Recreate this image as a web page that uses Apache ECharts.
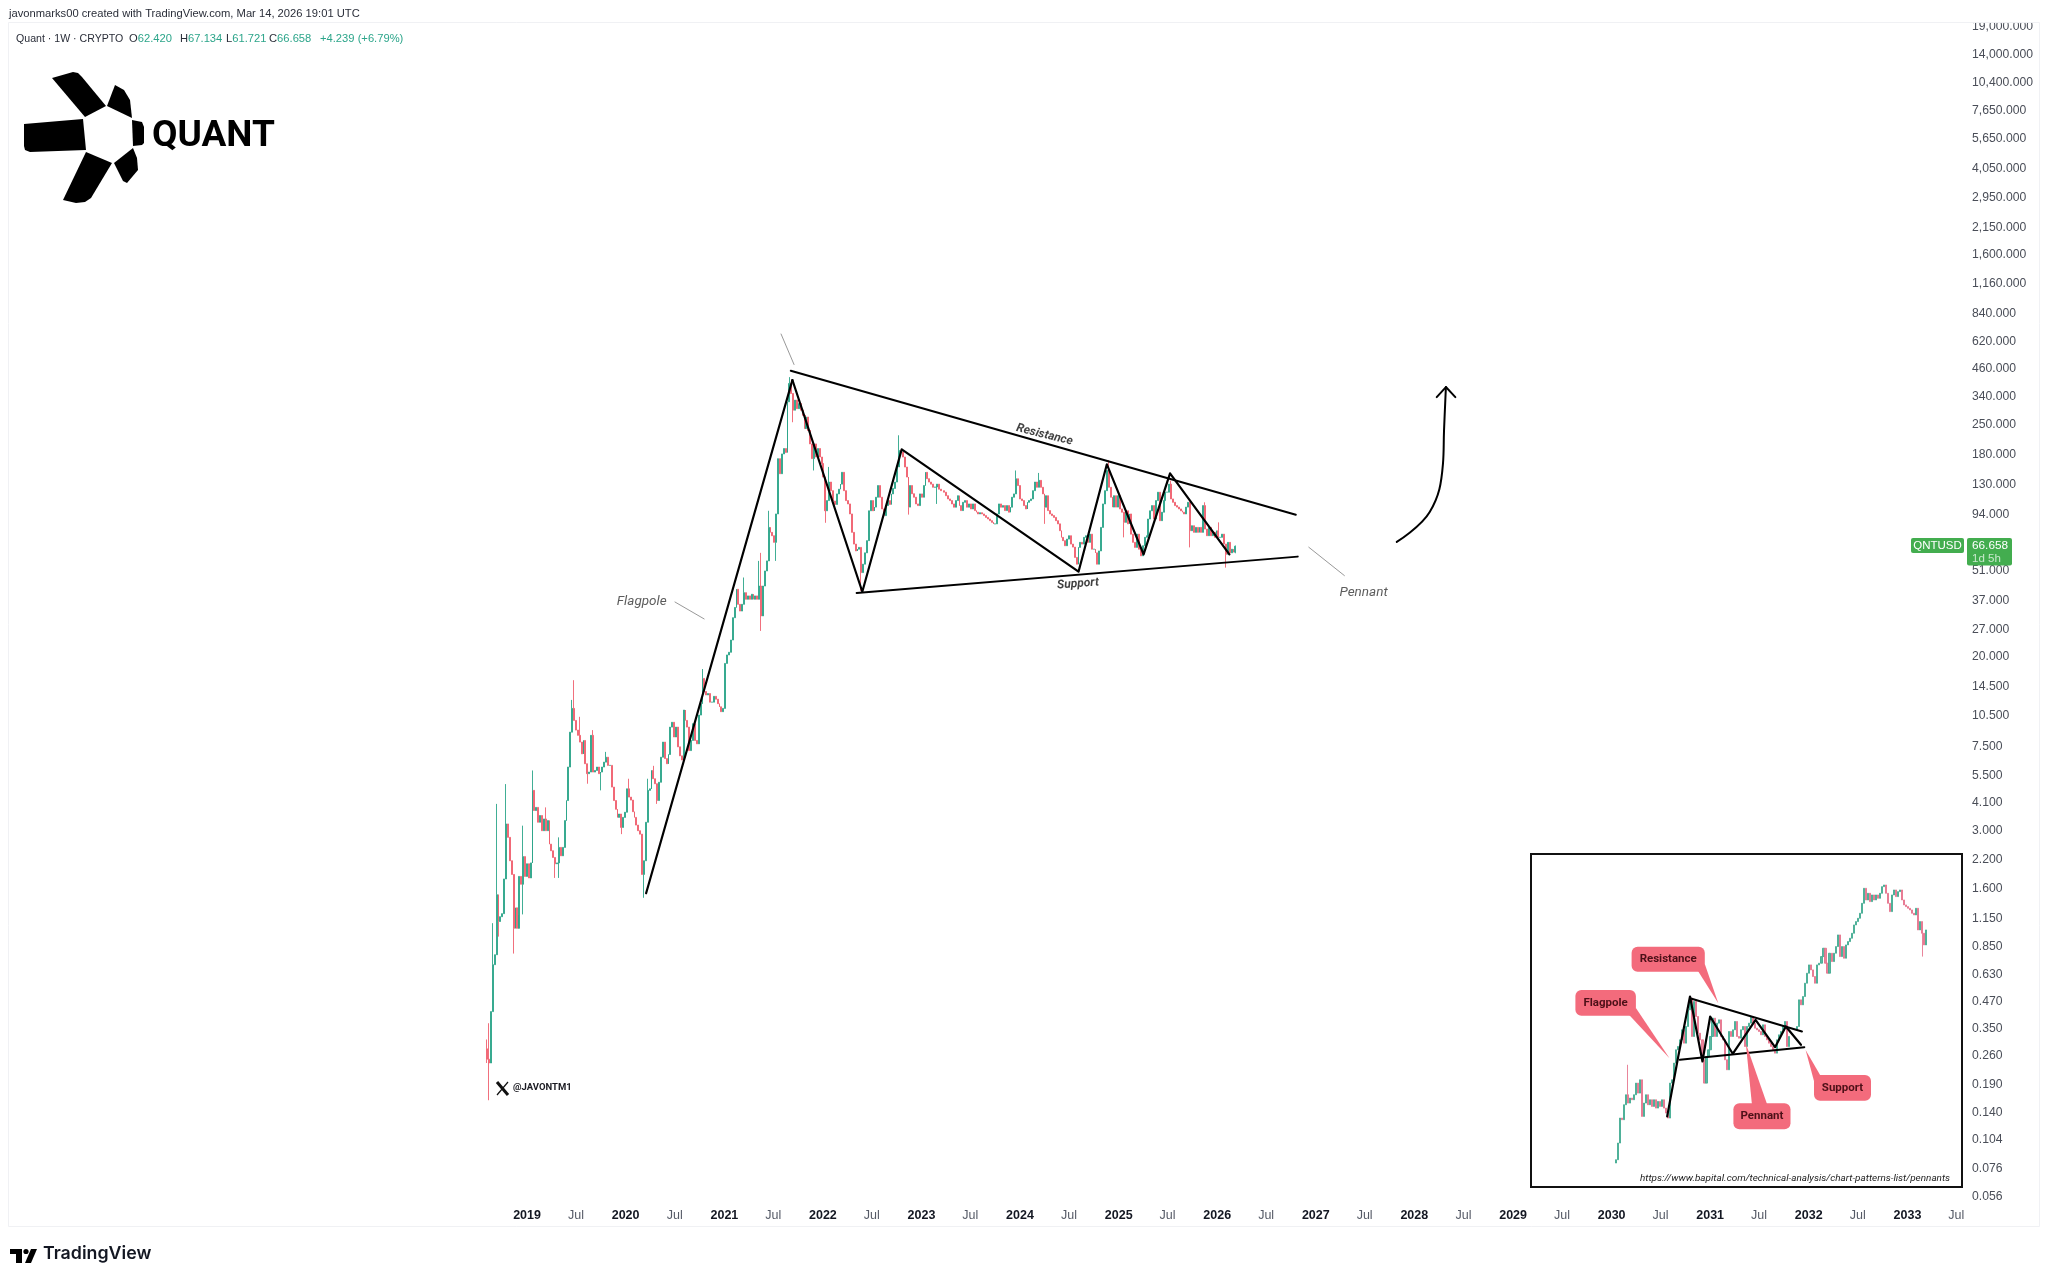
<!DOCTYPE html>
<html>
<head>
<meta charset="utf-8">
<title>QNTUSD pennant</title>
<script src="https://cdn.jsdelivr.net/npm/echarts@6/dist/echarts.min.js"></script>
<style>
  html, body { margin: 0; background: #fff; }
  #chart { width: 2048px; height: 1280px; }
</style>
</head>
<body>
<div id="chart"></div>
<script>
// weekly candles, open = previous close
const firstWeek = '2018-08-06'
const firstOpen = 0.28
const closes = [
  0.25, 0.24, 0.42, 0.7, 0.78, 1.5, 1.12, 1.18, 1.22, 1.78,
  3.24, 2.8, 2.17, 1.87, 1.04, 1.3, 1.04, 1.83, 1.68, 2.27,
  1.83, 2.1, 1.8, 2.12, 4.67, 3.75, 3.88, 3.3, 3.55, 3.01,
  3.42, 3.01, 3.36, 2.6, 2.42, 2.25, 2.1, 2.12, 2.51, 2.29,
  2.51, 3.36, 4.18, 6.02, 8.8, 11.4, 10, 9, 8.5, 7.9,
  6.95, 8.04, 6.24, 5.6, 5.7, 8.5, 5.7, 5.8, 6.02, 5.6,
  5.7, 6.02, 6.35, 6.7, 6.13, 6.13, 4.84, 4.18, 3.8, 3.48,
  3.61, 3.12, 3.48, 3.68, 4.75, 4.34, 4.2, 3.7, 3.48, 3.2,
  3.01, 2.9, 1.87, 2.17, 3.3, 4.67, 4.75, 5.8, 5.3, 5.02,
  4.18, 5.1, 6.7, 7.9, 6.6, 6.24, 6.9, 9.3, 9.8, 8.35,
  9.3, 7.5, 6.8, 6.5, 11.2, 10, 9.3, 7.2, 8.04, 9.65,
  8.04, 7.75, 10.6, 12, 15.8, 13.7, 13.2, 13.4, 12.2, 12.2,
  13, 12.6, 12, 11.6, 11, 11.4, 18.6, 20.4, 21, 24,
  30.6, 34.2, 41.7, 35.4, 32.9, 35.4, 40.2, 37.4, 38.8, 37.4,
  39.5, 37.4, 38.8, 37.4, 43.2, 31.2, 43.2, 50.9, 56.8, 81.8,
  77.5, 74.7, 69.5, 94.7, 172.8, 146.7, 182, 193, 185, 321,
  392, 351.5, 293, 327, 298, 315, 293, 277, 240, 272,
  235, 203, 173, 203, 176, 193, 176, 164, 141.5, 98,
  109.5, 134, 122, 109, 105, 117.8, 124, 131, 149, 122,
  109.5, 105.6, 94.7, 77.5, 68.2, 63.3, 64.5, 65.8, 50, 54.8,
  62, 70.8, 98, 109.5, 98, 102, 113.6, 129, 113.6, 100,
  93, 103.7, 109.5, 105, 117.8, 125, 134, 158, 189, 186,
  176, 157.8, 141.5, 102, 129, 118, 113.6, 105.6, 103.7, 117.8,
  113.6, 129, 149, 139, 134, 131, 126.6, 127, 131, 124,
  122, 122, 120, 115.5, 111.5, 109.5, 105.6, 101.9, 109.5, 115.5,
  103.7, 98.2, 107.5, 109.5, 101.9, 105.6, 100, 105.6, 98.2, 96.5,
  94.7, 96, 94.7, 93, 91.2, 89.6, 88, 86.4, 85, 85,
  94.7, 105.6, 101.9, 103.7, 98.2, 103.7, 96.5, 101.9, 113.6, 117.8,
  138.9, 129, 111.5, 109.5, 103.7, 100, 107.5, 109.5, 111.5, 122,
  134, 126.6, 136.5, 126.6, 117.8, 101.9, 115.5, 98.2, 94.7, 93,
  91.2, 88, 85, 78.9, 73.4, 70.8, 67, 72, 74.7, 68.2,
  66, 59, 54.8, 65.8, 69.5, 68.2, 73.4, 74.7, 69.5, 76,
  64.5, 64.5, 62, 54.8, 63.3, 81.8, 105.6, 122, 152, 126.6,
  113.6, 102, 115.5, 102, 115.5, 100, 96.5, 86.4, 98, 85,
  94.7, 76, 69.5, 65.8, 76, 64.5, 60, 67, 73.4, 74.7,
  89.6, 98, 103.7, 89.6, 109.5, 120, 88, 96.5, 109.5, 120,
  120, 131, 111.5, 107.5, 103.7, 102, 100, 98, 96.5, 94.7,
  102, 107.5, 78.9, 83.3, 77.5, 81.8, 77.5, 81.8, 77.5, 103.7,
  80.3, 74.7, 81.8, 74.7, 77.5, 73.4, 78.9, 73.4, 73.4, 76,
  68.2, 61, 69.5, 62, 64.5, 62.42, 66.658,
]
// only the wicks that stand out: [week index, price]
const highWicks = [
  [0, 0.31], [1, 0.37], [3, 1.1], [5, 4.03], [10, 5], [19, 3.18], [24, 5.8], [31, 3.88], [38, 2.8],
  [45, 12.5], [46, 15.5], [49, 10.4], [56, 9], [63, 7.1], [75, 5.3], [85, 5.3], [88, 6.1], [114, 17.5],
  [136, 47.4], [144, 56.8], [145, 62], [149, 98], [160, 420], [161, 407], [181, 158], [218, 223],
  [280, 152], [292, 148], [329, 170], [362, 136], [380, 107.5], [387, 86.4], [396, 67.134],
]
const lowWicks = [
  [0, 0.24], [1, 0.16], [5, 0.78], [6, 0.95], [14, 0.79], [17, 1.2], [19, 1.21], [36, 1.8], [38, 1.8],
  [53, 5.02], [60, 4.67], [71, 2.9], [83, 1.45], [90, 4.03], [145, 26.5], [153, 56.8], [162, 257],
  [173, 152], [179, 86], [198, 41], [223, 94], [238, 105.6], [295, 85], [337, 73.4], [372, 65.8], [391, 52.8], [396, 61.721],
]

const priceTicks = [19000, 14000, 10400, 7650, 5650, 4050, 2950, 2150, 1600, 1160, 840, 620, 460, 340, 250, 180, 130, 94,
  51, 37, 27, 20, 14.5, 10.5, 7.5, 5.5, 4.1, 3, 2.2, 1.6, 1.15, 0.85, 0.63, 0.47, 0.35, 0.26, 0.19, 0.14, 0.104, 0.076, 0.056]
const firstYearLabel = 2019

// hand drawn lines on the chart, [date, price]
const flagpole = [['2020-03-17', 1.523], ['2021-09-10', 407]]
const zigzag = [['2021-09-10', 407], ['2022-05-27', 40.6], ['2022-10-20', 191.4], ['2024-08-05', 50.5],
  ['2024-11-18', 162.6], ['2025-04-03', 61], ['2025-07-10', 147.4], ['2026-02-15', 61]]
const resistance = [['2021-09-04', 450.5], ['2026-10-19', 93.9]]
const support = [['2022-05-06', 40.05], ['2026-10-26', 59.5]]
const peakLeader = [['2021-07-30', 671.5], ['2021-09-16', 482]]
const poleLeader = [['2020-07-02', 36.3], ['2020-10-18', 30.2]]
const pennantLeader = [['2026-12-06', 65.9], ['2027-04-17', 48.4]]
const arrowCurve = [['2027-10-28', 69.8], ['2028-02-27', 96.7], ['2028-04-16', 163], ['2028-04-20', 233.6], ['2028-04-27', 377]]
const arrowHead = [['2028-03-24', 338], ['2028-04-27', 377], ['2028-06-01', 338]]

// small picture in the corner, own scale 0-1000, gaps are null
const insetFirstBar = 42
const insetCloses = [
  82, 132, 207, 202, 247, 277, 252, 267, 262, 277, 312, 282, 322, 212, 252, 277, 247, 262, 242, 262, 237, 257, 242, 262, 237, 222, 207,
  312, 322, 372, 412, 422, 442, 472, 432, 482, 532, 567, 452, 557, 512, 462, 442, 382, 312, 392, 412,
  452, 507, 452, 492, 502, 452, 442, 382, 352, 467, 452, 472, 497, 452, 447, 472, 482, 422, 482, 492,
  512, 492, 477, 472, 467, 457, 487, 452, 442, 432, 422, 412, 402, 442, 457, 467, 482, 497, 422, 452,
  null, null, null, 482, 562, 547, 572, 612, 642, 667, 652, 632, 612, 667, 672, 692, 717, 672, 642, 702, 677, 702, 722, 757,
  692, 722, 687, 727, 737, 747, 762, 787, 797, 807, 822, 852, 897, 862, 882, 857, 877, 862, 877, 867, 882, 902, 907, 882, 852, 827,
  877, 892, 872, 887, 892, 862, 847, 842, 837, 832, 822, 817, 837, 772, 797, 762, 727, 772,
]
const insetHighWicks = [[48, 367]]
const insetLowWicks = [[194, 692]]
const insetPole = [[67.5, 212], [73, 392], [78.83, 572], [85, 377], [88.83, 512], [100, 400], [111.33, 502], [121, 420], [126.33, 482], [133.83, 427]]
const insetResistance = [[78.83, 567], [134.33, 467]]
const insetSupport = [[73.83, 382], [135.5, 420]]

const upColor = '#2ca58a'
const downColor = '#f0616f'
const uiFont = '"Liberation Sans", Arial, sans-serif'
const weekMs = 7 * 24 * 3600 * 1000
const halfYearMs = 183 * 24 * 3600 * 1000

function wickMap(list) {
  const m = {}
  list.forEach(([i, v]) => { m[i] = v })
  return m
}

function buildCandles() {
  const hi = wickMap(highWicks)
  const lo = wickMap(lowWicks)
  const start = new Date(firstWeek).getTime()
  return closes.map((c, i) => {
    const o = i === 0 ? firstOpen : closes[i - 1]
    return [start + i * weekMs, o, c, lo[i] ?? Math.min(o, c), hi[i] ?? Math.max(o, c)]
  })
}

function buildInset() {
  const hi = wickMap(insetHighWicks)
  const lo = wickMap(insetLowWicks)
  const rows = []
  insetCloses.forEach((c, i) => {
    if (c === null) return
    const k = insetFirstBar + i
    const prev = insetCloses[i - 1]
    const o = prev == null ? c - 10 : prev
    rows.push([k, o, c, lo[k] ?? Math.min(o, c), hi[k] ?? Math.max(o, c)])
  })
  return rows
}

function drawLine(data, width, color, extra) {
  return Object.assign({
    type: 'line',
    data,
    showSymbol: false,
    symbol: 'none',
    silent: true,
    z: 5,
    lineStyle: { width, color, cap: 'round', join: 'round' },
  }, extra)
}

function noteLabel(value, text, style) {
  return {
    value,
    label: Object.assign({ show: true, position: 'inside', formatter: text, fontFamily: 'Roboto', fontStyle: 'italic' }, style),
  }
}

function hiddenAxis(extra) {
  return Object.assign({
    show: false,
    axisLine: { show: false },
    axisTick: { show: false },
    splitLine: { show: false },
  }, extra)
}

function callout(box, tail, text) {
  const [x, y, w, h] = box
  return [
    { type: 'polygon', z: 60, shape: { points: tail }, style: { fill: '#f36b7c' } },
    { type: 'rect', z: 60, shape: { x, y, width: w, height: h, r: 6 }, style: { fill: '#f36b7c' } },
    {
      type: 'text', z: 61, x: x + w / 2, y: y + h / 2,
      style: { text, fill: '#4d1018', font: 'bold 11.5px Roboto', align: 'center', verticalAlign: 'middle' },
    },
  ]
}

function blade(points) {
  return { type: 'polygon', z: 20, shape: { points }, style: { fill: '#000' } }
}

function legendItem(x, text, size) {
  return {
    type: 'text', z: 41, x, y: 38.6,
    style: {
      text, fill: '#2a2e39', font: `${size}px ${uiFont}`, verticalAlign: 'middle',
      rich: { g: { fill: upColor, font: `${size}px ${uiFont}` } },
    },
  }
}

const option = {
  animation: false,
  backgroundColor: '#fff',
  grid: [
    { left: 8, right: 86, top: 22, bottom: 76 },
    { left: 1531, top: 854, width: 431, height: 333 },
  ],
  xAxis: [
    {
      type: 'time',
      min: '2013-09-26',
      max: '2033-07-22',
      minInterval: halfYearMs,
      maxInterval: halfYearMs,
      axisLine: { show: false },
      axisTick: { show: false },
      splitLine: { show: false },
      axisLabel: {
        margin: 5,
        interval: 0,
        hideOverlap: false,
        showMinLabel: false,
        showMaxLabel: false,
        formatter(v) {
          const d = new Date(v)
          if (d.getFullYear() < firstYearLabel) return ''
          return d.getMonth() === 0 ? `{y|${d.getFullYear()}}` : '{m|Jul}'
        },
        rich: {
          y: { fontFamily: uiFont, fontSize: 12.5, fontWeight: 'bold', color: '#131722' },
          m: { fontFamily: uiFont, fontSize: 12.5, color: '#555a66' },
        },
      },
    },
    hiddenAxis({ gridIndex: 1, type: 'value', min: 0, max: 213.67 }),
  ],
  yAxis: [
    {
      type: 'log',
      position: 'right',
      min: 0.0517,
      max: 20065,
      axisLine: { show: false },
      axisTick: { show: false },
      splitLine: { show: false },
      axisLabel: {
        customValues: priceTicks,
        margin: 10,
        color: '#4a4e58',
        fontFamily: uiFont,
        fontSize: 12.2,
        padding: [1.5, 0, 0, 0],
        formatter: (v) => Number(v).toLocaleString('en-US', { minimumFractionDigits: 3, maximumFractionDigits: 3 }),
      },
    },
    hiddenAxis({ gridIndex: 1, type: 'value', min: 0, max: 1000 }),
  ],
  series: [
    {
      type: 'candlestick',
      data: buildCandles(),
      barWidth: 1.4,
      z: 3,
      itemStyle: { color: upColor, color0: downColor, borderColor: upColor, borderColor0: downColor, borderWidth: 1, opacity: 0.9 },
    },
    drawLine(flagpole, 2.2, '#000'),
    drawLine(zigzag, 2.2, '#000'),
    drawLine(resistance, 2, '#000'),
    drawLine(support, 2, '#000'),
    drawLine(peakLeader, 1, '#999'),
    drawLine(poleLeader, 1, '#999'),
    drawLine(pennantLeader, 1, '#999'),
    drawLine(arrowCurve, 2, '#000', { smooth: 0.4 }),
    drawLine(arrowHead, 2, '#000'),
    {
      type: 'scatter',
      symbolSize: 1,
      silent: true,
      z: 6,
      itemStyle: { color: 'transparent' },
      data: [
        noteLabel(['2024-04-01', 223.8], 'Resistance', { fontSize: 12, fontWeight: 'bold', color: '#111', rotate: -14 }),
        noteLabel(['2024-08-03', 44.2], 'Support', { fontSize: 12, fontWeight: 'bold', color: '#111', rotate: 4 }),
        noteLabel(['2020-03-01', 36.3], 'Flagpole', { fontSize: 13.5, color: '#333' }),
        noteLabel(['2027-06-27', 40.2], 'Pennant', { fontSize: 13.5, color: '#333' }),
      ],
    },
    {
      type: 'candlestick',
      xAxisIndex: 1,
      yAxisIndex: 1,
      data: buildInset(),
      barWidth: 1.6,
      z: 3,
      itemStyle: { color: '#3ea98f', color0: '#e5708a', borderColor: '#3ea98f', borderColor0: '#e5708a', borderWidth: 1, opacity: 0.85 },
    },
    drawLine(insetPole, 2.2, '#000', { xAxisIndex: 1, yAxisIndex: 1 }),
    drawLine(insetResistance, 2, '#000', { xAxisIndex: 1, yAxisIndex: 1 }),
    drawLine(insetSupport, 2, '#000', { xAxisIndex: 1, yAxisIndex: 1 }),
  ],
  graphic: {
    elements: [
      // top label is cut by the pane edge
      { type: 'rect', z: 40, shape: { x: 1900, y: 0, width: 148, height: 22 }, style: { fill: '#fff' } },
      // frame of the chart pane
      { type: 'rect', z: 41, silent: true, shape: { x: 8.5, y: 22.5, width: 2031, height: 1204 }, style: { fill: 'none', stroke: '#f0f1f4', lineWidth: 1 } },
      {
        type: 'text', z: 41, x: 9, y: 14,
        style: { text: 'javonmarks00 created with TradingView.com, Mar 14, 2026 19:01 UTC', fill: '#2a2e39', font: `11.2px ${uiFont}`, verticalAlign: 'middle' },
      },
      legendItem(16, 'Quant · 1W · CRYPTO', 10.6),
      legendItem(129, 'O{g|62.420}', 11.2),
      legendItem(180, 'H{g|67.134}', 11.2),
      legendItem(226, 'L{g|61.721}', 11.2),
      legendItem(269, 'C{g|66.658}', 11.2),
      legendItem(320, '{g|+4.239 (+6.79%)}', 11.2),
      // Quant logo
      blade([[52, 78], [73, 72], [78, 73], [82, 77], [106, 106], [85, 117]]),
      blade([[115, 85], [124, 90], [130, 100], [132, 118], [107, 106]]),
      blade([[24, 124], [83, 119], [86, 150], [30, 152], [25, 150], [24, 146]]),
      blade([[132, 120], [142, 122], [144, 127], [144, 143], [142, 145], [133, 146]]),
      blade([[133, 148], [137, 158], [138, 170], [127, 183], [123, 181], [114, 163]]),
      blade([[86, 152], [112, 163], [91, 198], [85, 202], [76, 203], [63, 200]]),
      {
        type: 'text', z: 20, x: 152, y: 136.5,
        style: { text: 'QUANT', fill: '#000', font: 'bold 37px Roboto', verticalAlign: 'middle' },
      },
      // watermark near the first candle
      { type: 'polyline', z: 20, shape: { points: [[497, 1082], [508, 1095]] }, style: { stroke: '#111', lineWidth: 3, fill: 'none' } },
      { type: 'polyline', z: 20, shape: { points: [[508, 1082], [497, 1095]] }, style: { stroke: '#111', lineWidth: 1.2, fill: 'none' } },
      {
        type: 'text', z: 20, x: 513, y: 1088,
        style: { text: '@JAVONTM1', fill: '#1b1b22', font: 'bold 9.5px Roboto', verticalAlign: 'middle' },
      },
      // TradingView mark
      blade([[10, 1249], [22, 1249], [22, 1263], [16, 1263], [16, 1254], [10, 1254]]),
      blade([[31, 1249], [37, 1249], [31, 1263], [25, 1263]]),
      { type: 'circle', z: 20, shape: { cx: 26, cy: 1251.5, r: 2.6 }, style: { fill: '#000' } },
      {
        type: 'text', z: 20, x: 43, y: 1254,
        style: { text: 'TradingView', fill: '#131722', font: '600 17.8px Inter', verticalAlign: 'middle' },
      },
      // price tag
      { type: 'rect', z: 30, shape: { x: 1911, y: 538, width: 53, height: 15, r: 2 }, style: { fill: '#43ad4f' } },
      { type: 'rect', z: 30, shape: { x: 1967, y: 538, width: 45, height: 27.5, r: 2 }, style: { fill: '#43ad4f' } },
      { type: 'text', z: 31, x: 1937.5, y: 545.5, style: { text: 'QNTUSD', fill: '#fff', font: `11.5px ${uiFont}`, align: 'center', verticalAlign: 'middle' } },
      { type: 'text', z: 31, x: 1972, y: 545.5, style: { text: '66.658', fill: '#fff', font: `11.8px ${uiFont}`, verticalAlign: 'middle' } },
      { type: 'text', z: 31, x: 1972, y: 558.5, style: { text: '1d 5h', fill: '#c8e8cc', font: `11.5px ${uiFont}`, verticalAlign: 'middle' } },
      // corner picture
      { type: 'rect', z: 1, shape: { x: 1531, y: 854, width: 431, height: 333 }, style: { fill: '#fff', stroke: '#111', lineWidth: 2 } },
      ...callout([1631.6, 946.7, 73.2, 25], [[1698, 971], [1704.8, 964], [1718.3, 1003.3]], 'Resistance'),
      ...callout([1575.4, 990, 60.5, 25.7], [[1629.2, 1015], [1635.9, 1008], [1669.5, 1058.3]], 'Flagpole'),
      ...callout([1733.4, 1103.3, 57.1, 26], [[1751.9, 1104], [1767, 1104], [1745.8, 1043.3]], 'Pennant'),
      ...callout([1814, 1075, 57, 25.7], [[1814, 1081], [1820.7, 1076], [1805.6, 1050]], 'Support'),
      {
        type: 'text', z: 61, x: 1640, y: 1178.5,
        style: { text: 'https://www.bapital.com/technical-analysis/chart-patterns-list/pennants', fill: '#222', font: 'italic 9.95px Roboto', verticalAlign: 'middle' },
      },
    ],
  },
}

const chart = echarts.init(document.getElementById('chart'))
chart.setOption(option)
</script>
</body>
</html>
